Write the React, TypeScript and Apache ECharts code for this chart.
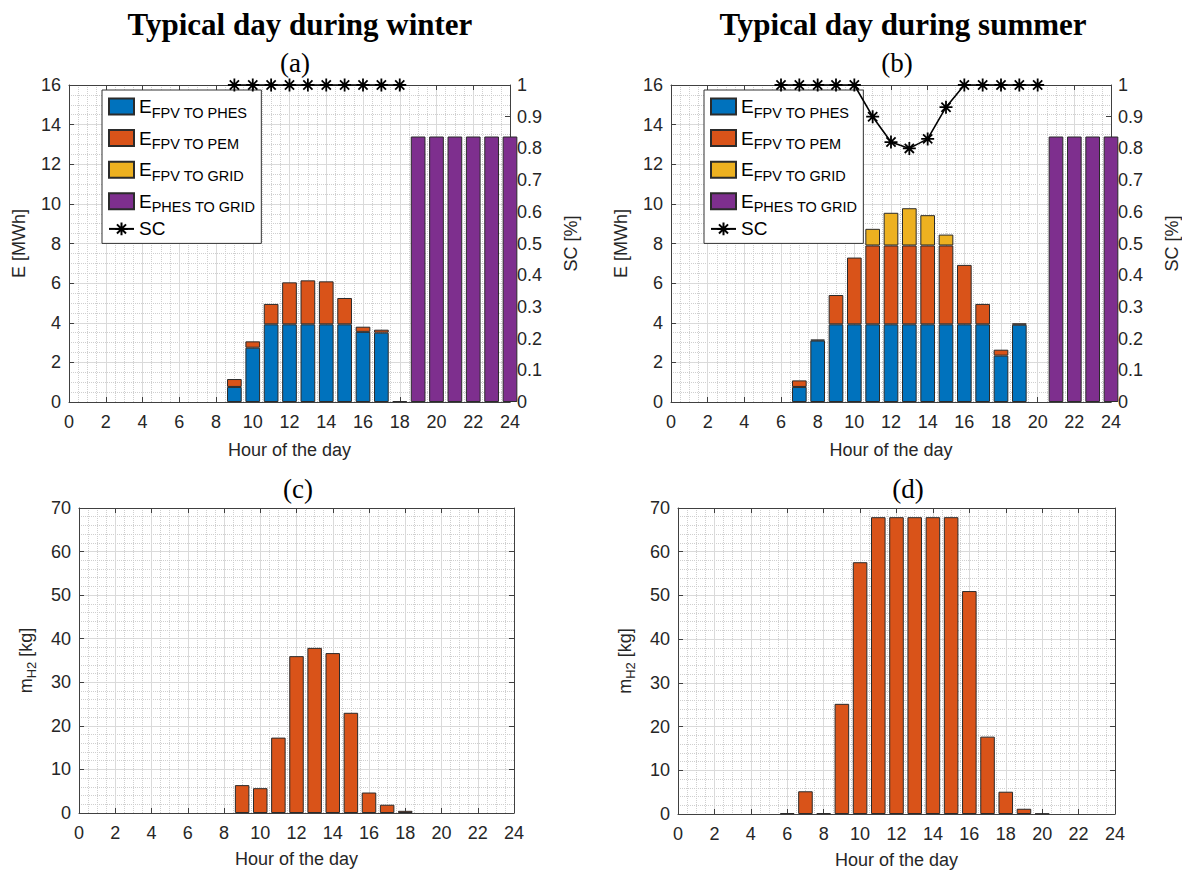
import React, { useEffect, useRef } from 'react';
import * as echarts from 'echarts';

// ---------- DATA ----------
const hours = [0, 1, 2, 3, 4, 5, 6, 7, 8, 9, 10, 11, 12, 13, 14, 15, 16, 17, 18, 19, 20, 21, 22, 23, 24];

// Winter (a) – energy [MWh]
const winterFpvToPhes = [0, 0, 0, 0, 0, 0, 0, 0, 0, 0.76, 2.74, 3.92, 3.92, 3.92, 3.92, 3.92, 3.54, 3.5, 0.04, 0, 0, 0, 0, 0, 0];
const winterFpvToPem = [0, 0, 0, 0, 0, 0, 0, 0, 0, 0.4, 0.32, 1.03, 2.12, 2.22, 2.17, 1.33, 0.26, 0.15, 0, 0, 0, 0, 0, 0, 0];
const winterFpvToGrid = [0, 0, 0, 0, 0, 0, 0, 0, 0, 0, 0, 0, 0, 0, 0, 0, 0, 0, 0, 0, 0, 0, 0, 0, 0];
const winterPhesToGrid = [0, 0, 0, 0, 0, 0, 0, 0, 0, 0, 0, 0, 0, 0, 0, 0, 0, 0, 0, 13.4, 13.4, 13.4, 13.4, 13.4, 13.4];
const winterSC = [null, null, null, null, null, null, null, null, null, 1, 1, 1, 1, 1, 1, 1, 1, 1, 1, null, null, null, null, null, null];

// Summer (b) – energy [MWh]
const summerFpvToPhes = [0, 0, 0, 0, 0, 0, 0, 0.76, 3.1, 3.92, 3.92, 3.92, 3.92, 3.92, 3.92, 3.92, 3.92, 3.92, 2.34, 3.9, 0, 0, 0, 0, 0];
const summerFpvToPem = [0, 0, 0, 0, 0, 0, 0, 0.33, 0.05, 1.48, 3.37, 3.98, 3.98, 3.98, 3.98, 3.98, 3.0, 1.03, 0.3, 0.07, 0, 0, 0, 0, 0];
const summerFpvToGrid = [0, 0, 0, 0, 0, 0, 0, 0, 0, 0, 0, 0.84, 1.65, 1.88, 1.53, 0.55, 0, 0, 0, 0, 0, 0, 0, 0, 0];
const summerPhesToGrid = [0, 0, 0, 0, 0, 0, 0, 0, 0, 0, 0, 0, 0, 0, 0, 0, 0, 0, 0, 0, 0, 13.4, 13.4, 13.4, 13.4];
const summerSC = [null, null, null, null, null, null, 1, 1, 1, 1, 1, 0.9, 0.82, 0.8, 0.83, 0.93, 1, 1, 1, 1, 1, null, null, null, null];

// Hydrogen produced [kg]
const winterH2 = [0, 0, 0, 0, 0, 0, 0, 0, 0, 6.4, 5.7, 17.3, 36.0, 37.9, 36.7, 23.0, 4.7, 1.9, 0.5, 0, 0, 0, 0, 0, 0];
const summerH2 = [0, 0, 0, 0, 0, 0, 0.2, 5.2, 0.2, 25.2, 57.6, 67.9, 67.9, 67.9, 67.9, 67.9, 51.0, 17.7, 5.1, 1.2, 0.1, 0, 0, 0, 0];

const legendNames = ['FPV TO PHES', 'FPV TO PEM', 'FPV TO GRID', 'PHES TO GRID', 'SC'];
const barColors = ['#0072BD', '#D95319', '#EDB120', '#7E2F8E'];

// ---------- STYLE ----------
const SANS = 'Liberation Sans, Arial, sans-serif';
const SERIF = 'Liberation Serif, Times New Roman, serif';
const TXT = '#262626';
const AXIS = '#404040';
const STAR = 'path://M6,0L6,12M0,6L12,6M1.76,1.76L10.24,10.24M1.76,10.24L10.24,1.76';

const clean = (vals: (number | null)[]) => vals.map((v) => (v === 0 ? null : v));

const gridLine = { show: true, lineStyle: { color: '#dadada', width: 1, type: 'solid' } };
const minorLine = { show: true, lineStyle: { color: '#cfcfcf', width: 1, type: 'dotted' } };

// per grid: [visible value axis (bottom), mirror (top), hidden category axis for bars]
function xAxes(gridIndex: number) {
  const base = {
    type: 'value', gridIndex, min: 0, max: 24, interval: 2,
    axisLine: { show: true, onZero: false, lineStyle: { color: AXIS, width: 1 } },
    axisTick: { show: true, inside: true, length: 5, lineStyle: { color: AXIS } },
    minorTick: { show: false, splitNumber: 4 },
  };
  return [
    {
      ...base, position: 'bottom',
      axisLabel: { show: true, margin: 11, fontSize: 18, color: TXT, fontFamily: SANS },
      splitLine: gridLine, minorSplitLine: minorLine,
      name: 'Hour of the day', nameLocation: 'middle', nameGap: gridIndex < 2 ? 39 : 37,
      nameTextStyle: { fontSize: 18, color: TXT, fontFamily: SANS },
    },
    { ...base, position: 'top', axisLabel: { show: false }, splitLine: { show: false } },
    {
      type: 'category', gridIndex, data: hours.map(String), boundaryGap: false, show: false,
    },
  ];
}

function energyYAxes(gridIndex: number) {
  return [
    {
      type: 'value', gridIndex, position: 'left', min: 0, max: 16, interval: 2,
      axisLine: { show: true, onZero: false, lineStyle: { color: AXIS } },
      axisTick: { show: true, inside: true, length: 5, lineStyle: { color: AXIS } },
      minorTick: { show: false, splitNumber: 4 },
      axisLabel: { margin: 8, fontSize: 18, color: TXT, fontFamily: SANS },
      splitLine: gridLine, minorSplitLine: minorLine,
      name: 'E [MWh]', nameLocation: 'middle', nameGap: 41, nameRotate: 90,
      nameTextStyle: { fontSize: 18, color: TXT, fontFamily: SANS },
    },
    {
      type: 'value', gridIndex, position: 'right', min: 0, max: 1, interval: 0.1,
      axisLine: { show: true, onZero: false, lineStyle: { color: AXIS } },
      axisTick: { show: true, inside: true, length: 5, lineStyle: { color: AXIS } },
      axisLabel: { margin: 7, fontSize: 18, color: TXT, fontFamily: SANS },
      splitLine: { show: false },
      name: 'SC [%]', nameLocation: 'middle', nameGap: 52, nameRotate: 90,
      nameTextStyle: { fontSize: 18, color: TXT, fontFamily: SANS },
    },
  ];
}

function h2YAxes(gridIndex: number) {
  const base = {
    type: 'value', gridIndex, min: 0, max: 70, interval: 10,
    axisLine: { show: true, onZero: false, lineStyle: { color: AXIS } },
    axisTick: { show: true, inside: true, length: 5, lineStyle: { color: AXIS } },
    minorTick: { show: false, splitNumber: 5 },
  };
  return [
    {
      ...base, position: 'left',
      axisLabel: { margin: 8, fontSize: 18, color: TXT, fontFamily: SANS },
      splitLine: gridLine, minorSplitLine: minorLine,
      name: '{m|m}{s|H2}{m| [kg]}', nameLocation: 'middle', nameGap: 41, nameRotate: 90,
      nameTextStyle: {
        fontSize: 18, color: TXT, fontFamily: SANS,
        rich: {
          m: { fontSize: 18, color: TXT, fontFamily: SANS },
          s: { fontSize: 13, color: TXT, fontFamily: SANS, padding: [12, 0, 0, 0] },
        },
      },
    },
    { ...base, position: 'right', axisLabel: { show: false }, splitLine: { show: false } },
  ];
}

function energySeries(xi: number, yi: number, stack: string, blue: number[], orange: number[], yellow: number[], purple: number[], sc: (number | null)[]) {
  const vals = [blue, orange, yellow, purple];
  const bars = vals.map((v, k) => ({
    type: 'bar', name: legendNames[k], xAxisIndex: xi, yAxisIndex: yi, stack,
    barWidth: '80%', data: clean(v),
    itemStyle: { color: barColors[k], borderColor: '#2b2b2b', borderWidth: 1 },
    clip: true,
  }));
  const line = {
    type: 'line', name: 'SC', xAxisIndex: xi, yAxisIndex: yi + 1,
    data: sc,
    symbol: STAR, symbolSize: 13, showSymbol: true, connectNulls: false,
    lineStyle: { color: '#000', width: 1.6 },
    itemStyle: { color: '#000', borderColor: '#000', borderWidth: 1.8 },
    clip: false, z: 5,
  };
  return [...bars, line];
}

function h2Series(xi: number, yi: number, vals: number[]) {
  return {
    type: 'bar', name: 'H2', xAxisIndex: xi, yAxisIndex: yi, barWidth: '80%',
    data: clean(vals), clip: true,
    itemStyle: { color: '#D95319', borderColor: '#2b2b2b', borderWidth: 1 },
  };
}

function legendAt(left: number) {
  return {
    left, top: 90, orient: 'vertical',
    data: legendNames.map((n) => (n === 'SC' ? { name: n } : { name: n, icon: 'rect' })),
    selectedMode: false,
    itemWidth: 25, itemHeight: 16, itemGap: 4.6, itemTextGap: 4,
    backgroundColor: '#fff', borderColor: '#333', borderWidth: 1, padding: [3, 6, 5, 6],
    formatter: (name: string) => (name === 'SC' ? '{t|SC}' : `{e|E}{s|${name}}`),
    textStyle: {
      fontFamily: SANS, color: '#000',
      rich: {
        e: { fontSize: 19, fontFamily: SANS, color: '#000', lineHeight: 26 },
        s: { fontSize: 14.5, fontFamily: SANS, color: '#000', lineHeight: 26, padding: [12, 0, 0, 0] },
        t: { fontSize: 19, fontFamily: SANS, color: '#000', lineHeight: 18 },
      },
    },
  };
}

const titleStyle = { fontFamily: SERIF, fontWeight: 'bold', fontSize: 31, color: '#000' };
const subStyle = { fontFamily: SERIF, fontWeight: 'normal', fontSize: 27, color: '#000' };

export default function App() {
  const ref = useRef<HTMLDivElement>(null);
  useEffect(() => {
    document.body.style.margin = '0';
    if (!ref.current) return;
    const chart = echarts.init(ref.current, undefined, { renderer: 'svg' });
    chart.setOption({
      animation: false,
      backgroundColor: '#fff',
      title: [
        { text: 'Typical day during winter', left: 295, top: 4, textAlign: 'center', textStyle: titleStyle },
        { text: '(a)', left: 290, top: 44, textAlign: 'center', textStyle: subStyle },
        { text: 'Typical day during summer', left: 898, top: 4, textAlign: 'center', textStyle: titleStyle },
        { text: '(b)', left: 892, top: 44, textAlign: 'center', textStyle: subStyle },
        { text: '(c)', left: 293, top: 470, textAlign: 'center', textStyle: subStyle },
        { text: '(d)', left: 903, top: 470, textAlign: 'center', textStyle: subStyle },
      ],
      legend: [legendAt(102), legendAt(704)],
      grid: [
        { left: 69, top: 85, width: 441, height: 317 },
        { left: 671, top: 85, width: 441, height: 317 },
        { left: 79, top: 508, width: 435, height: 305 },
        { left: 678, top: 508, width: 437, height: 306 },
      ],
      xAxis: [...xAxes(0), ...xAxes(1), ...xAxes(2), ...xAxes(3)],
      yAxis: [...energyYAxes(0), ...energyYAxes(1), ...h2YAxes(2), ...h2YAxes(3)],
      series: [
        ...energySeries(2, 0, 'w', winterFpvToPhes, winterFpvToPem, winterFpvToGrid, winterPhesToGrid, winterSC),
        ...energySeries(5, 2, 's', summerFpvToPhes, summerFpvToPem, summerFpvToGrid, summerPhesToGrid, summerSC),
        h2Series(8, 4, winterH2),
        h2Series(11, 6, summerH2),
      ],
    });
    return () => chart.dispose();
  }, []);
  return <div ref={ref} style={{ width: 1182, height: 871 }} />;
}
